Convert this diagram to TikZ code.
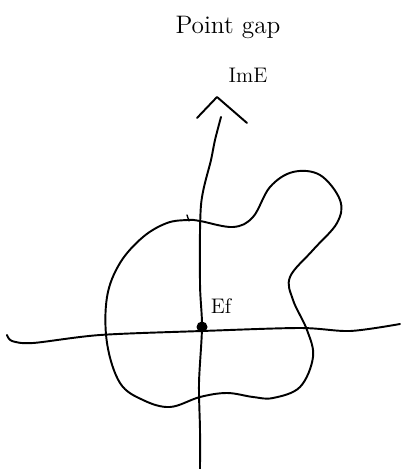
\documentclass[tikz,border=0pt]{standalone}
\begin{document}
\begin{tikzpicture}[x=0.02cm, y=-0.02cm, line width=1.1pt, line cap=round, line join=round]
    \useasboundingbox (0,0) rectangle (400,469);
    \coordinate (reL) at (7,335);
    \coordinate (reR) at (400,324);
    \coordinate (imT) at (221,117);
    \coordinate (imB) at (200,469);
    \coordinate (tip) at (217,97);
    % wavy axes
    \draw plot[smooth] coordinates {(reL) (12,341) (33,343) (100,335) (202,331) (300,328) (350,331) (reR)};
    \draw plot[smooth] coordinates {(imT) (215,140) (211,160) (201,205) (200,283) (202,327) (199,383) (200,430) (imB)};
    \draw (197,118) -- (tip) -- (247,123);
    % the gapped region
    \draw plot[smooth cycle, tension=0.6] coordinates {
        (188,220) (200,221) (233,227) (253,217) (270,187) (293,172) (320,175)
        (340,200) (337,223) (313,250) (290,277) (293,300) (307,330) (313,357)
        (300,387) (273,398) (253,397) (227,393) (200,397) (170,407) (143,400)
        (120,383) (107,343) (107,297) (120,263) (143,237) (167,223)};
    \draw[line width=0.8pt] (187,215) -- (189,221);
    \fill (202,327) circle (5.5) coordinate (Ef);
    \node[font=\large, inner sep=1pt] (EfLabel) at (221,306) {Ef};
    \node[font=\large] (ImLabel) at (248,75) {ImE};
    \node[font=\Large] (title) at (228,27) {Point gap};
\end{tikzpicture}
\end{document}
